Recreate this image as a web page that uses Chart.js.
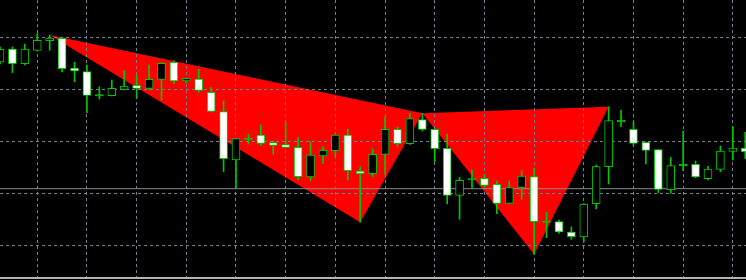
<!DOCTYPE html>
<html lang="en">
<head>
<meta charset="UTF-8">
<title>Harmonic pattern</title>
<script src="https://cdn.jsdelivr.net/npm/chart.js"></script>
<style>
  body { margin: 0; background: #000; }
  .chart-box { position: relative; width: 746px; height: 280px; background: #000; }
  .frame-line { position: absolute; left: 0; right: 0; top: 277px; height: 2px; background: #b4b4b4; }
</style>
</head>
<body>
<div class="chart-box">
  <canvas id="grafico"></canvas>
  <div class="frame-line"></div>
</div>
<script>
// candle prices (points), one entry per bar, left to right
const opens  = [218, 231, 216.3, 229.5, 239.3, 241.7, 212, 208.3, 185.5, 184.3, 190.7, 194.7, 191.7, 200.7, 217.7, 199, 201, 187.7, 168.3, 120,
                142, 145, 137.3, 135.3, 132.7, 103, 124, 129.3, 145, 109, 106.3, 125.7, 150.7, 136.3, 160.3, 150.7, 131.7, 84.7, 101.5, 101.7,
                95.7, 76.7, 92.7, 103.3, 59, 58.3, 48, 43, 76.3, 113.3, 159.7, 150.7, 137.7, 130.3, 90.3, 115.7, 115.7, 101.3, 110.7, 128.7, 132];
const highs  = [233, 233, 236, 246.5, 245, 243, 217.7, 215, 193.3, 200, 209.3, 205, 215, 217, 219.3, 202, 210.7, 192.7, 179.3, 141.5,
                145.7, 155, 139, 157.7, 142.3, 138.3, 133.3, 145.5, 151, 113.3, 131, 163.3, 153, 166.7, 166.7, 151, 146, 102.7, 110, 105.7,
                99, 99, 109.3, 111.7, 67.7, 60, 53, 76.5, 115, 173.3, 170, 158.3, 138, 130.5, 122.7, 149, 119, 113.7, 134, 153.3, 147.7];
const lows   = [216, 207.3, 215, 229, 229.7, 208, 198.3, 167.3, 181, 184, 190, 181.7, 190.7, 180, 196.3, 197.3, 187.7, 168, 108.3, 92.3,
                136, 134.3, 125.7, 132.5, 100, 99.3, 116.7, 123.3, 100, 57.7, 103.3, 105.7, 133.3, 135.7, 149, 118.3, 76, 60.7, 91.7, 92.7,
                66.3, 76.5, 80.7, 25.7, 42.3, 46.7, 40.7, 38, 71.3, 96, 153.3, 134.3, 116, 87.3, 86.7, 109.3, 102.3, 100, 108.3, 120, 121.7];
const closes = [230.7, 216.3, 231, 239.7, 242, 211.3, 209, 184.7, 184, 191.7, 194, 191.7, 200.7, 216.7, 199, 201.7, 189.7, 168.7, 121.3, 141.3,
                140.5, 136.7, 134.7, 132.7, 103.3, 125, 129.7, 145, 109.3, 106.3, 125.7, 150.7, 136.3, 161.3, 150.7, 131.3, 84.7, 99.7, 100, 94.7,
                76.7, 92.3, 104, 58.3, 57.5, 48, 43.3, 76, 113.3, 159.3, 158.2, 136.7, 129.7, 90.7, 114.3, 114.2, 103, 111, 129, 132, 128.3];

// harmonic pattern swing points: bar index and which side of the bar
const pivotBars  = [4, 29, 34, 43, 49];
const pivotSides = ['high', 'low', 'high', 'low', 'high'];

const bidPrice = 91.3;

// grid positions (no labels shown in the picture)
const gridX = [3, 7, 11, 15, 19, 23, 27, 31, 35, 39, 43, 47, 51, 55, 59];
const gridY = [35, 86.7, 138.3, 190.7, 242.7];

const verde = '#00c800';

const corpos = opens.map((o, i) => ({ x: i, y: [o, closes[i]] }));
const pavios = opens.map((o, i) => ({ x: i, y: [lows[i], highs[i]] }));
const coresCorpo = opens.map((o, i) => {
  if (Math.abs(closes[i] - o) <= 1.5) return verde;   // doji -> cross
  return closes[i] > o ? '#000000' : '#ffffff';
});

const pivos = pivotBars.map((b, i) => ({ x: b, y: pivotSides[i] === 'high' ? highs[b] : lows[b] }));
const triangulo1 = pivos.slice(0, 3);
const triangulo2 = pivos.slice(2, 5);

const ctx = document.getElementById('grafico').getContext('2d');

new Chart(ctx, {
  type: 'bar',
  data: {
    datasets: [
      { type: 'line', data: triangulo1, backgroundColor: '#ff0000', borderColor: 'transparent', pointRadius: 0, fill: 'shape', order: 6 },
      { type: 'line', data: triangulo2, backgroundColor: '#ff0000', borderColor: 'transparent', pointRadius: 0, fill: 'shape', order: 5 },
      { type: 'line', data: [{ x: -1, y: bidPrice }, { x: 62, y: bidPrice }], borderColor: '#7f8a96', borderWidth: 1, pointRadius: 0, fill: false, order: 4 },
      { data: pavios, backgroundColor: verde, borderWidth: 0, barThickness: 1, grouped: false, order: 2 },
      { data: corpos, backgroundColor: coresCorpo, borderColor: verde, borderWidth: 1, borderSkipped: false, barThickness: 8, grouped: false, order: 1 }
    ]
  },
  options: {
    responsive: true,
    maintainAspectRatio: false,
    animation: false,
    events: [],
    layout: { padding: 0, autoPadding: false },
    plugins: {
      legend: { display: false },
      tooltip: { enabled: false },
      filler: { drawTime: 'beforeDraw' }
    },
    scales: {
      x: {
        type: 'linear',
        min: 0,
        max: 60.06,
        offset: false,
        afterBuildTicks: axis => { axis.ticks = gridX.map(v => ({ value: v })); },
        ticks: { display: false },
        grid: { color: '#75808c', lineWidth: 1, drawTicks: false, offset: false },
        border: { display: false, dash: [3, 3] }
      },
      y: {
        min: 0,
        max: 280,
        afterBuildTicks: axis => { axis.ticks = gridY.map(v => ({ value: v })); },
        ticks: { display: false },
        grid: { color: '#75808c', lineWidth: 1, drawTicks: false },
        border: { display: false, dash: [3, 3] }
      }
    }
  }
});
</script>
</body>
</html>
